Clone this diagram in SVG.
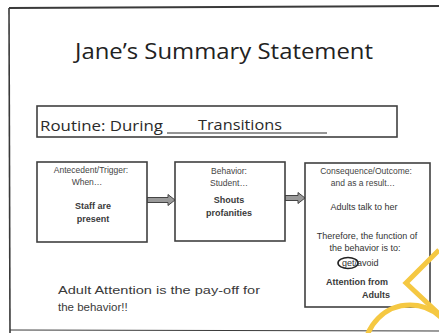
<svg xmlns="http://www.w3.org/2000/svg" width="439" height="333" viewBox="0 0 439 333">
  <defs>
    <style>
      .frame { fill: none; stroke: #3a3a3a; }
      .box { fill: #ffffff; stroke: #404040; stroke-width: 1.6; }
      .title { font-family: "Open Sans", "Liberation Sans", sans-serif; font-size: 22px; fill: #222; }
      .routine { font-family: "Open Sans", "Liberation Sans", sans-serif; font-size: 14px; fill: #2a2a2a; }
      .small { font-family: "Liberation Sans", Arial, sans-serif; font-size: 8.5px; fill: #444; text-anchor: middle; }
      .bold { font-family: "Liberation Sans", Arial, sans-serif; font-size: 9px; font-weight: bold; fill: #3a3a3a; text-anchor: middle; }
      .mid { font-family: "Liberation Sans", Arial, sans-serif; font-size: 9px; fill: #333; text-anchor: middle; }
      .start { text-anchor: start; }
      .note { font-family: "Liberation Sans", Arial, sans-serif; font-size: 11.5px; fill: #3a3a3a; }
      .arrow { fill: #9a9a9a; stroke: #444; stroke-width: 1; }
      .mark { fill: none; stroke: #f5c842; stroke-width: 5; }
    </style>
    <clipPath id="page">
      <rect x="0" y="0" width="439" height="333"/>
    </clipPath>
  </defs>

  <rect width="439" height="333" fill="#ffffff"/>

  <!-- page frame -->
  <path class="frame" d="M9 8 L439 6" stroke-width="2.2"/>
  <path class="frame" d="M9 8 L10 333" stroke-width="1.6"/>
  <path class="frame" d="M10 330 L439 331" stroke-width="1" stroke="#bbb"/>

  <!-- title -->
  <text class="title" x="75" y="59" textLength="298" lengthAdjust="spacingAndGlyphs">Jane’s Summary Statement</text>

  <!-- routine bar -->
  <g id="routine">
    <rect class="box" x="37" y="106" width="360" height="31"/>
    <text class="routine" x="40" y="131" textLength="123" lengthAdjust="spacingAndGlyphs">Routine: During</text>
    <line x1="167" y1="133" x2="327" y2="133" stroke="#2a2a2a" stroke-width="1"/>
    <text class="routine" x="198" y="130" textLength="84" lengthAdjust="spacingAndGlyphs">Transitions</text>
  </g>

  <!-- connectors -->
  <g id="connectors">
    <polygon class="arrow" points="147,197.5 168,197.5 168,194.5 175,200 168,205.5 168,202.5 147,202.5"/>
    <polygon class="arrow" points="285,195.5 298,195.5 298,192.5 305,198 298,203.5 298,200.5 285,200.5"/>
  </g>

  <g id="antecedent">
    <rect class="box" x="37" y="162" width="110" height="80"/>
    <text class="small" x="91" y="173">Antecedent/Trigger:</text>
    <text class="small" x="87" y="185">When…</text>
    <text class="bold" x="93" y="209">Staff are</text>
    <text class="bold" x="93" y="222">present</text>
  </g>

  <g id="behavior">
    <rect class="box" x="175" y="162" width="110" height="79"/>
    <text class="small" x="229" y="174">Behavior:</text>
    <text class="small" x="229" y="186">Student…</text>
    <text class="bold" x="229" y="203">Shouts</text>
    <text class="bold" x="229" y="216">profanities</text>
  </g>

  <g id="consequence">
    <rect class="box" x="305" y="163" width="125" height="144"/>
    <text class="small" x="366" y="174">Consequence/Outcome:</text>
    <text class="small" x="363" y="186">and as a result…</text>
    <text class="mid" x="364" y="210">Adults talk to her</text>
    <text class="mid" x="367" y="239">Therefore, the function of</text>
    <text class="mid" x="365" y="251">the behavior is to:</text>
    <text class="mid start" x="342" y="266">get/avoid</text>
    <ellipse cx="348" cy="263" rx="10" ry="5.5" fill="none" stroke="#222" stroke-width="1.6"/>
    <text class="bold" x="357" y="285">Attention from</text>
    <text class="bold" x="376" y="298">Adults</text>
  </g>

  <g id="payoff">
    <text class="note" x="58" y="294" textLength="202" lengthAdjust="spacingAndGlyphs">Adult Attention is the pay-off for</text>
    <text class="note" x="58" y="311">the behavior!!</text>
  </g>

  <!-- yellow marks at lower right -->
  <g clip-path="url(#page)">
    <polyline class="mark" points="439,250 406,283 439,314"/>
    <circle class="mark" cx="410" cy="350" r="45"/>
  </g>
</svg>
